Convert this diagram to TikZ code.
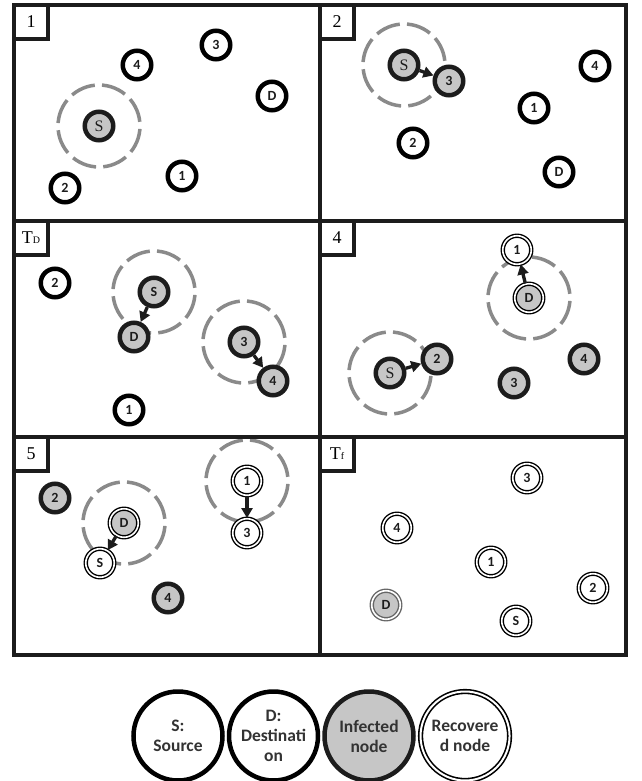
\documentclass[tikz,border=0pt]{standalone}
\usepackage{fontspec}
\setmainfont{Liberation Serif}
\newfontfamily\calfont{Carlito}
\usetikzlibrary{arrows.meta,positioning,backgrounds}
\definecolor{NetInk}{HTML}{1C1C1C}
\definecolor{NetGray}{HTML}{C6C6C6}
\definecolor{NetRange}{HTML}{8A8A8A}
\definecolor{NetText}{HTML}{333333}
\tikzset{
  panel/.style={draw=NetInk, line width=3.5pt, minimum width=306pt,
                minimum height=216pt, inner sep=0pt},
  tagbox/.style={draw=NetInk, line width=3.5pt, fill=white, minimum size=34pt,
                 inner sep=0pt, anchor=north west, font=\fontsize{18}{18}\selectfont},
  plain/.style={circle, draw=black, line width=4.5pt, fill=white, minimum size=28.5pt,
                inner sep=0pt, font=\calfont\bfseries\fontsize{14}{14}\selectfont, text=NetInk},
  infected/.style={plain, draw=NetInk, fill=NetGray},
  recovered/.style={plain, line width=1.4pt, double=white, double distance=1.6pt, minimum size=28.5pt},
  recinf/.style={recovered, fill=NetGray},
  recfaded/.style={recinf, draw=black!60},
  serifS/.style={font=\rmfamily\fontsize{16}{16}\selectfont},
  txrange/.style={circle, draw=NetRange, line width=3.5pt, minimum size=82pt, inner sep=0pt,
                dash pattern=on 25pt off 7.2pt, dash phase=28pt},
  arrow/.style={-{Triangle[length=10pt,width=11pt]}, line width=3.3pt, NetInk},
  legcirc/.style={circle, draw=black, line width=4.5pt, fill=white, minimum size=89pt,
                  inner sep=0pt, align=center,
                  font=\calfont\bfseries\fontsize{17.5}{20}\selectfont, text=NetText},
}

\begin{document}
\begin{tikzpicture}[x=1pt, y=-1pt]
  \useasboundingbox (0,0) rectangle (641,781);

  % ---- Panels (time steps) ----
  \node[panel] (p1) at (167,113) {};
  \node[panel] (p2) at (473,113) {};
  \node[panel] (p3) at (167,329) {};
  \node[panel] (p4) at (473,329) {};
  \node[panel, minimum height=218pt] (p5) at (167,546) {};
  \node[panel, minimum height=218pt] (p6) at (473,546) {};

  \node[tagbox] at (p1.north west) {1};
  \node[tagbox] at (p2.north west) {2};
  \node[tagbox] at (p3.north west) {T{\fontsize{10}{10}\selectfont D}};
  \node[tagbox] at (p4.north west) {4};
  \node[tagbox] at (p5.north west) {5};
  \node[tagbox] at (p6.north west) {T{\fontsize{10}{10}\selectfont f}};

  % ---- Step 1 ----
  \node[plain] (a3) at (216,45)  {3};
  \node[plain] (a4) at (137,65)  {4};
  \node[plain] (aD) at (272,96)  {D};
  \node[infected, serifS] (aS) at (99,126) {S};
  \node[plain] (a1) at (182,176) {1};
  \node[plain] (a2) at (65,188)  {2};

  % ---- Step 2 ----
  \node[infected, serifS] (bS) at (404,65) {S};
  \node[infected] (b3) at (449,81)  {3};
  \node[plain] (b4) at (595,66)  {4};
  \node[plain] (b1) at (534,108) {1};
  \node[plain] (b2) at (413,143) {2};
  \node[plain] (bD) at (559,172) {D};

  % ---- Step T_D ----
  \node[plain] (c2) at (55,283)  {2};
  \node[infected] (cS) at (154,292) {S};
  \node[infected] (cD) at (134,337) {D};
  \node[infected] (c3) at (244,342) {3};
  \node[infected] (c4) at (273,381) {4};
  \node[plain] (c1) at (129,410) {1};

  % ---- Step 4 ----
  \node[recovered] (d1) at (517,250) {1};
  \node[recinf] (dD) at (529,298) {D};
  \node[infected, serifS] (dS) at (390,373) {S};
  \node[infected] (d2) at (437,359) {2};
  \node[infected] (d3) at (514,383) {3};
  \node[infected] (d4) at (584,359) {4};

  % ---- Step 5 ----
  \node[infected] (e2) at (55,498)  {2};
  \node[recinf] (eD) at (124,523)   {D};
  \node[recovered] (eS) at (100,563) {S};
  \node[recovered] (e1) at (247,481) {1};
  \node[recovered] (e3) at (247,533) {3};
  \node[infected] (e4) at (168,598) {4};

  % ---- Step T_f ----
  \node[recovered] (f3) at (527,478) {3};
  \node[recovered] (f4) at (397,528) {4};
  \node[recovered] (f1) at (491,562) {1};
  \node[recovered] (f2) at (593,588) {2};
  \node[recfaded] (fD) at (386,605)  {D};
  \node[recovered] (fS) at (516,621) {S};

  % ---- Transmission ranges ----
  \begin{scope}[on background layer]
    \node[txrange] (rA) at (aS) {};
    \node[txrange] (rB) at (bS) {};
    \node[txrange] (rC1) at (cS) {};
    \node[txrange] (rC2) at (c3) {};
    \node[txrange] (rD1) at (dD) {};
    \node[txrange] (rD2) at (dS) {};
    \node[txrange] (rE1) at (eD) {};
    \node[txrange] (rE2) at (e1) {};
  \end{scope}

  % ---- Forwarding ----
  \draw[arrow] (bS) -- (b3);
  \draw[arrow] (cS) -- (cD);
  \draw[arrow] (c3) -- (c4);
  \draw[arrow] (dS) -- (d2);
  \draw[arrow] (dD) -- (d1);
  \draw[arrow] (eD) -- (eS);
  \draw[arrow] (e1) -- (e3);

  % ---- Legend ----
  \node[legcirc] (legS) at (178,736) {S:\\Source};
  \node[legcirc, right=2pt of legS] (legD) {D:\\Destinati\\on};
  \node[legcirc, draw=NetInk, fill=NetGray, right=2pt of legD] (legInf) {Infected\\node};
  \node[legcirc, line width=1.6pt, double=white, double distance=2pt,
        right=4pt of legInf] (legRec) {Recovere\\d node};

\end{tikzpicture}
\end{document}
